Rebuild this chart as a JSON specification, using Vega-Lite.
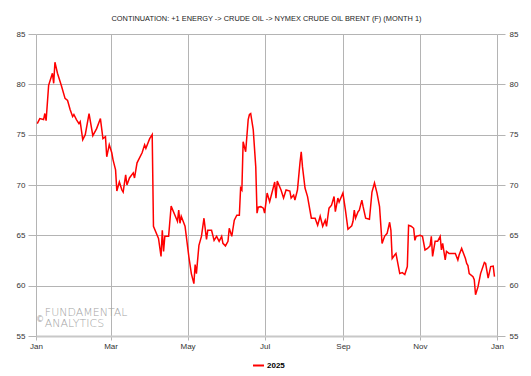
{
  "$schema": "https://vega.github.io/schema/vega-lite/v6.json",
  "width": 461,
  "height": 302,
  "autosize": "none",
  "padding": {"left": 36, "top": 34, "right": 34, "bottom": 40},
  "background": "white",
  "title": {
    "text": "CONTINUATION: +1 ENERGY -> CRUDE OIL -> NYMEX CRUDE OIL BRENT (F) (MONTH 1)",
    "fontSize": 7.4,
    "fontWeight": "normal",
    "font": "Liberation Sans",
    "color": "#222222",
    "anchor": "middle",
    "offset": 8
  },
  "config": {
    "view": {"stroke": null},
    "axis": {"labelFont": "Liberation Sans", "labelFontSize": 8, "labelColor": "#333333", "title": null}
  },
  "datasets": {
    "brent": [
      {"date": "2025-01-02", "price": 76.1}, {"date": "2025-01-04", "price": 76.6}, {"date": "2025-01-07", "price": 76.5},
      {"date": "2025-01-08", "price": 77.1}, {"date": "2025-01-09", "price": 76.4}, {"date": "2025-01-11", "price": 79.9},
      {"date": "2025-01-14", "price": 81.1}, {"date": "2025-01-15", "price": 80.1}, {"date": "2025-01-16", "price": 82.2},
      {"date": "2025-01-18", "price": 81.1}, {"date": "2025-01-21", "price": 79.9}, {"date": "2025-01-24", "price": 78.6},
      {"date": "2025-01-26", "price": 78.4}, {"date": "2025-01-28", "price": 77.5}, {"date": "2025-01-30", "price": 76.8},
      {"date": "2025-01-31", "price": 77.0}, {"date": "2025-02-02", "price": 76.5}, {"date": "2025-02-04", "price": 76.1},
      {"date": "2025-02-05", "price": 76.3}, {"date": "2025-02-07", "price": 74.5}, {"date": "2025-02-09", "price": 75.0},
      {"date": "2025-02-12", "price": 77.1}, {"date": "2025-02-15", "price": 74.9}, {"date": "2025-02-18", "price": 75.6},
      {"date": "2025-02-21", "price": 76.6}, {"date": "2025-02-23", "price": 74.6}, {"date": "2025-02-25", "price": 74.8},
      {"date": "2025-02-26", "price": 72.8}, {"date": "2025-02-28", "price": 74.0}, {"date": "2025-03-02", "price": 73.2},
      {"date": "2025-03-03", "price": 72.5}, {"date": "2025-03-05", "price": 71.5}, {"date": "2025-03-06", "price": 69.4},
      {"date": "2025-03-08", "price": 70.3}, {"date": "2025-03-10", "price": 69.5}, {"date": "2025-03-11", "price": 69.3},
      {"date": "2025-03-13", "price": 71.0}, {"date": "2025-03-14", "price": 70.0}, {"date": "2025-03-16", "price": 70.7},
      {"date": "2025-03-19", "price": 71.2}, {"date": "2025-03-20", "price": 70.7}, {"date": "2025-03-22", "price": 72.2},
      {"date": "2025-03-26", "price": 73.2}, {"date": "2025-03-28", "price": 74.0}, {"date": "2025-03-29", "price": 73.65},
      {"date": "2025-04-01", "price": 74.6}, {"date": "2025-04-02", "price": 74.8}, {"date": "2025-04-03", "price": 75.0},
      {"date": "2025-04-04", "price": 65.9}, {"date": "2025-04-08", "price": 64.7}, {"date": "2025-04-10", "price": 62.9},
      {"date": "2025-04-11", "price": 65.5}, {"date": "2025-04-12", "price": 63.4}, {"date": "2025-04-13", "price": 64.9},
      {"date": "2025-04-16", "price": 64.9}, {"date": "2025-04-18", "price": 67.9}, {"date": "2025-04-21", "price": 67.0},
      {"date": "2025-04-23", "price": 66.4}, {"date": "2025-04-24", "price": 67.5}, {"date": "2025-04-25", "price": 66.2},
      {"date": "2025-04-26", "price": 66.9}, {"date": "2025-04-29", "price": 65.9}, {"date": "2025-05-02", "price": 62.9},
      {"date": "2025-05-04", "price": 61.2}, {"date": "2025-05-06", "price": 60.2}, {"date": "2025-05-07", "price": 62.1},
      {"date": "2025-05-08", "price": 61.2}, {"date": "2025-05-10", "price": 64.0}, {"date": "2025-05-12", "price": 64.9},
      {"date": "2025-05-14", "price": 66.7}, {"date": "2025-05-16", "price": 64.6}, {"date": "2025-05-17", "price": 65.5},
      {"date": "2025-05-20", "price": 65.5}, {"date": "2025-05-22", "price": 64.5}, {"date": "2025-05-24", "price": 64.9},
      {"date": "2025-05-26", "price": 64.4}, {"date": "2025-05-28", "price": 64.9}, {"date": "2025-05-29", "price": 64.2},
      {"date": "2025-05-31", "price": 63.95}, {"date": "2025-06-02", "price": 64.4}, {"date": "2025-06-03", "price": 65.7},
      {"date": "2025-06-05", "price": 64.9}, {"date": "2025-06-07", "price": 66.5}, {"date": "2025-06-09", "price": 67.0},
      {"date": "2025-06-11", "price": 67.0}, {"date": "2025-06-12", "price": 69.7}, {"date": "2025-06-13", "price": 69.5},
      {"date": "2025-06-14", "price": 74.3}, {"date": "2025-06-16", "price": 73.3}, {"date": "2025-06-18", "price": 76.5},
      {"date": "2025-06-19", "price": 77.0}, {"date": "2025-06-20", "price": 77.1}, {"date": "2025-06-22", "price": 75.5},
      {"date": "2025-06-24", "price": 71.8}, {"date": "2025-06-25", "price": 67.2}, {"date": "2025-06-26", "price": 67.8},
      {"date": "2025-06-28", "price": 67.85}, {"date": "2025-06-30", "price": 67.7}, {"date": "2025-07-01", "price": 67.2},
      {"date": "2025-07-03", "price": 69.2}, {"date": "2025-07-05", "price": 68.35}, {"date": "2025-07-08", "price": 69.8},
      {"date": "2025-07-09", "price": 70.3}, {"date": "2025-07-10", "price": 68.7}, {"date": "2025-07-11", "price": 70.4},
      {"date": "2025-07-14", "price": 69.5}, {"date": "2025-07-16", "price": 68.7}, {"date": "2025-07-18", "price": 69.5},
      {"date": "2025-07-21", "price": 69.4}, {"date": "2025-07-22", "price": 68.7}, {"date": "2025-07-24", "price": 69.0},
      {"date": "2025-07-25", "price": 68.5}, {"date": "2025-07-27", "price": 69.5}, {"date": "2025-07-29", "price": 72.2},
      {"date": "2025-07-30", "price": 73.3}, {"date": "2025-07-31", "price": 71.8}, {"date": "2025-08-02", "price": 69.7},
      {"date": "2025-08-04", "price": 68.85}, {"date": "2025-08-07", "price": 66.7}, {"date": "2025-08-10", "price": 66.7},
      {"date": "2025-08-12", "price": 66.0}, {"date": "2025-08-14", "price": 66.9}, {"date": "2025-08-16", "price": 65.9},
      {"date": "2025-08-18", "price": 66.5}, {"date": "2025-08-19", "price": 65.9}, {"date": "2025-08-21", "price": 67.7},
      {"date": "2025-08-23", "price": 68.0}, {"date": "2025-08-25", "price": 68.85}, {"date": "2025-08-26", "price": 67.35},
      {"date": "2025-08-28", "price": 68.7}, {"date": "2025-08-29", "price": 68.3}, {"date": "2025-09-01", "price": 69.2},
      {"date": "2025-09-03", "price": 67.5}, {"date": "2025-09-05", "price": 65.6}, {"date": "2025-09-08", "price": 65.95},
      {"date": "2025-09-09", "price": 66.4}, {"date": "2025-09-10", "price": 67.5}, {"date": "2025-09-11", "price": 66.7},
      {"date": "2025-09-13", "price": 67.35}, {"date": "2025-09-14", "price": 67.5}, {"date": "2025-09-16", "price": 68.5},
      {"date": "2025-09-17", "price": 67.85}, {"date": "2025-09-19", "price": 66.7}, {"date": "2025-09-22", "price": 66.6},
      {"date": "2025-09-24", "price": 69.3}, {"date": "2025-09-26", "price": 70.2}, {"date": "2025-09-28", "price": 69.2},
      {"date": "2025-09-30", "price": 67.85}, {"date": "2025-10-02", "price": 64.2}, {"date": "2025-10-04", "price": 64.9},
      {"date": "2025-10-06", "price": 65.2}, {"date": "2025-10-08", "price": 66.3}, {"date": "2025-10-09", "price": 65.5},
      {"date": "2025-10-10", "price": 62.7}, {"date": "2025-10-12", "price": 63.05}, {"date": "2025-10-13", "price": 63.2},
      {"date": "2025-10-16", "price": 61.2}, {"date": "2025-10-18", "price": 61.3}, {"date": "2025-10-20", "price": 61.1},
      {"date": "2025-10-22", "price": 61.9}, {"date": "2025-10-23", "price": 66.0}, {"date": "2025-10-25", "price": 65.9},
      {"date": "2025-10-27", "price": 65.7}, {"date": "2025-10-28", "price": 64.5}, {"date": "2025-10-29", "price": 64.9},
      {"date": "2025-11-01", "price": 65.0}, {"date": "2025-11-03", "price": 64.9}, {"date": "2025-11-05", "price": 63.55},
      {"date": "2025-11-07", "price": 63.7}, {"date": "2025-11-09", "price": 63.95}, {"date": "2025-11-10", "price": 64.9},
      {"date": "2025-11-11", "price": 62.9}, {"date": "2025-11-13", "price": 64.4}, {"date": "2025-11-15", "price": 64.4},
      {"date": "2025-11-17", "price": 64.9}, {"date": "2025-11-18", "price": 63.55}, {"date": "2025-11-19", "price": 64.2},
      {"date": "2025-11-21", "price": 62.55}, {"date": "2025-11-22", "price": 63.4}, {"date": "2025-11-24", "price": 63.2},
      {"date": "2025-11-27", "price": 63.2}, {"date": "2025-11-29", "price": 63.2}, {"date": "2025-12-01", "price": 62.55},
      {"date": "2025-12-02", "price": 63.05}, {"date": "2025-12-04", "price": 63.7}, {"date": "2025-12-07", "price": 62.7},
      {"date": "2025-12-08", "price": 62.2}, {"date": "2025-12-09", "price": 62.0}, {"date": "2025-12-10", "price": 61.2},
      {"date": "2025-12-13", "price": 60.9}, {"date": "2025-12-14", "price": 60.6}, {"date": "2025-12-15", "price": 59.1},
      {"date": "2025-12-17", "price": 59.9}, {"date": "2025-12-19", "price": 61.2}, {"date": "2025-12-22", "price": 62.3},
      {"date": "2025-12-23", "price": 62.2}, {"date": "2025-12-25", "price": 60.75}, {"date": "2025-12-27", "price": 61.9},
      {"date": "2025-12-29", "price": 61.95}, {"date": "2025-12-30", "price": 60.9}
    ]
  },
  "data": {"name": "brent"},
  "encoding": {
    "x": {
      "field": "date",
      "type": "temporal",
      "scale": {"domain": [{"year": 2025, "month": 1, "date": 1}, {"year": 2026, "month": 1, "date": 1}]},
      "axis": {
        "orient": "bottom",
        "format": "%b",
        "values": [
          {"year": 2025, "month": 1, "date": 1}, {"year": 2025, "month": 3, "date": 1}, {"year": 2025, "month": 5, "date": 1},
          {"year": 2025, "month": 7, "date": 1}, {"year": 2025, "month": 9, "date": 1}, {"year": 2025, "month": 11, "date": 1},
          {"year": 2026, "month": 1, "date": 1}
        ],
        "grid": true,
        "gridColor": "#b4b4b4",
        "gridWidth": 1,
        "tickColor": "#b4b4b4",
        "tickSize": 4,
        "domain": true,
        "domainColor": "#c8c8c8",
        "domainWidth": 2,
        "labelPadding": 2,
        "labelFlush": false,
        "labelOverlap": false
      }
    }
  },
  "layer": [
    {
      "layer": [
        {
          "mark": {"type": "line", "strokeWidth": 1.5, "interpolate": "linear"},
          "encoding": {
            "y": {
              "field": "price",
              "type": "quantitative",
              "scale": {"domain": [55, 85], "nice": false, "zero": false},
              "axis": {
                "orient": "left",
                "values": [55, 60, 65, 70, 75, 80, 85],
                "grid": true,
                "gridColor": "#b4b4b4",
                "gridWidth": 1,
                "tickColor": "#b4b4b4",
                "tickSize": 8,
                "domain": false,
                "labelPadding": 3
              }
            },
            "color": {
              "datum": "2025",
              "type": "nominal",
              "scale": {"range": ["#ff0000"]},
              "legend": {
                "orient": "none",
                "legendX": 216,
                "legendY": 325,
                "direction": "horizontal",
                "title": null,
                "symbolType": "stroke",
                "symbolStrokeWidth": 2,
                "symbolSize": 120,
                "labelOffset": 2,
                "labelFont": "Liberation Sans",
                "labelFontSize": 8,
                "labelFontWeight": "bold",
                "labelColor": "#000000"
              }
            }
          }
        },
        {
          "transform": [{"window": [{"op": "row_number", "as": "rn"}]}, {"filter": "datum.rn === 1"}],
          "mark": {"type": "text", "text": "FUNDAMENTAL", "align": "left", "baseline": "alphabetic", "font": "DejaVu Sans", "fontWeight": 200, "fontSize": 11, "color": "#a4a4a4"},
          "encoding": {
            "x": {"datum": {"year": 2025, "month": 1, "date": 8}, "type": "temporal"},
            "y": {"datum": 56.95, "type": "quantitative"}
          }
        },
        {
          "transform": [{"window": [{"op": "row_number", "as": "rn"}]}, {"filter": "datum.rn === 1"}],
          "mark": {"type": "text", "text": "ANALYTICS", "align": "left", "baseline": "alphabetic", "font": "DejaVu Sans", "fontWeight": 200, "fontSize": 11, "color": "#a4a4a4"},
          "encoding": {
            "x": {"datum": {"year": 2025, "month": 1, "date": 8}, "type": "temporal"},
            "y": {"datum": 55.9, "type": "quantitative"}
          }
        },
        {
          "transform": [{"window": [{"op": "row_number", "as": "rn"}]}, {"filter": "datum.rn === 1"}],
          "mark": {"type": "text", "text": "©", "align": "left", "baseline": "alphabetic", "font": "DejaVu Sans", "fontSize": 8, "color": "#a4a4a4"},
          "encoding": {
            "x": {"datum": {"year": 2025, "month": 1, "date": 1}, "type": "temporal"},
            "y": {"datum": 56.4, "type": "quantitative"}
          }
        }
      ]
    },
    {
      "mark": {"type": "point", "opacity": 0},
      "encoding": {
        "y": {
          "field": "price",
          "type": "quantitative",
          "scale": {"domain": [55, 85], "nice": false, "zero": false},
          "axis": {
            "orient": "right",
            "values": [55, 60, 65, 70, 75, 80, 85],
            "grid": false,
            "tickColor": "#b4b4b4",
            "tickSize": 8,
            "domain": false,
            "labelPadding": 4
          }
        }
      }
    }
  ],
  "resolve": {"scale": {"y": "independent"}}
}
